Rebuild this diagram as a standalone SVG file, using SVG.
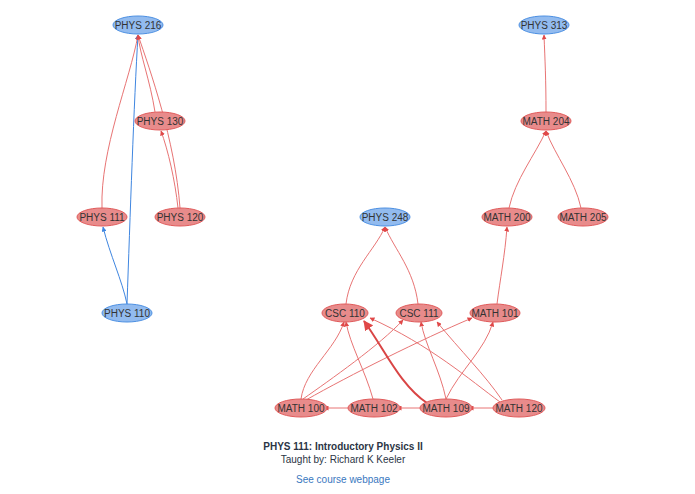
<svg xmlns="http://www.w3.org/2000/svg" width="695" height="494" viewBox="0 0 695 494">
<style>
.r ellipse{fill:#e88b8b;stroke:#e05a5a;stroke-width:1}
.b ellipse{fill:#92bbef;stroke:#4b8fe2;stroke-width:1}
text{font-family:"Liberation Sans",Arial,sans-serif;font-size:10px;fill:#333;text-anchor:middle}
.e path{fill:none;stroke:#e87474;stroke-width:1}
.e path.bl{stroke:#3f86e0}
.e path.th{stroke:#d94545;stroke-width:2}
</style>
<defs>
<marker id="ar" viewBox="0 0 10 10" refX="9" refY="5" markerWidth="5" markerHeight="5" orient="auto"><path d="M0,0L10,5L0,10z" fill="#e04848"/></marker>
<marker id="ab" viewBox="0 0 10 10" refX="9" refY="5" markerWidth="5" markerHeight="5" orient="auto"><path d="M0,0L10,5L0,10z" fill="#3f86e0"/></marker>
</defs>
<g class="e" id="edges">
<path d="M102,208 C100,150 130,80 138,35" marker-end="url(#ar)"/>
<path class="bl" d="M127,304 C130,220 134,100 138,35" marker-end="url(#ab)"/>
<path d="M155,112 C150,80 140,55 138,35" marker-end="url(#ar)"/>
<path d="M180,208 C175,140 150,70 138,35" marker-end="url(#ar)"/>
<path d="M178,208 C175,180 168,150 161,131" marker-end="url(#ar)"/>
<path class="bl" d="M127,304 C122,280 110,255 103,227" marker-end="url(#ab)"/>
<path d="M546,112 C546,80 545,60 544,35" marker-end="url(#ar)"/>
<path d="M509,208 C515,180 535,155 546,131" marker-end="url(#ar)"/>
<path d="M581,208 C575,180 555,155 546,131" marker-end="url(#ar)"/>
<path d="M497,304 C500,280 505,255 507,227" marker-end="url(#ar)"/>
<path d="M346,304 C350,270 375,250 385,227" marker-end="url(#ar)"/>
<path d="M418,304 C414,270 395,250 385,227" marker-end="url(#ar)"/>
<path d="M301,399 C305,370 335,350 344,322" marker-end="url(#ar)"/>
<path d="M303,399 C330,380 380,345 403,320" marker-end="url(#ar)"/>
<path d="M306,400 C350,375 420,340 472,318" marker-end="url(#ar)"/>
<path d="M373,399 C365,370 350,345 346,322" marker-end="url(#ar)"/>
<path class="th" d="M427,403 C400,385 385,350 364,321" marker-end="url(#ar)"/>
<path d="M446,399 C440,370 425,345 421,322" marker-end="url(#ar)"/>
<path d="M446,399 C460,370 485,350 493,322" marker-end="url(#ar)"/>
<path d="M500,402 C470,380 430,345 370,318" marker-end="url(#ar)"/>
<path d="M502,400 C485,375 460,350 437,322" marker-end="url(#ar)"/>
<path d="M349,408 L324,408" marker-end="url(#ar)"/>
<path d="M421,408 L397,408" marker-end="url(#ar)"/>
<path d="M494,408 L469,408" marker-end="url(#ar)"/>
</g>
<g id="PHYS216" class="b"><ellipse cx="138" cy="25" rx="25" ry="9"/><text x="138" y="29">PHYS 216</text></g>
<g id="PHYS130" class="r"><ellipse cx="160" cy="121" rx="25" ry="9"/><text x="160" y="125">PHYS 130</text></g>
<g id="PHYS111" class="r"><ellipse cx="102" cy="217" rx="25" ry="9"/><text x="102" y="221">PHYS 111</text></g>
<g id="PHYS120" class="r"><ellipse cx="180" cy="217" rx="25" ry="9"/><text x="180" y="221">PHYS 120</text></g>
<g id="PHYS110" class="b"><ellipse cx="127" cy="313" rx="25" ry="9"/><text x="127" y="317">PHYS 110</text></g>
<g id="PHYS313" class="b"><ellipse cx="544" cy="25" rx="25" ry="9"/><text x="544" y="29">PHYS 313</text></g>
<g id="MATH204" class="r"><ellipse cx="546" cy="121" rx="25" ry="9"/><text x="546" y="125">MATH 204</text></g>
<g id="MATH200" class="r"><ellipse cx="507" cy="217" rx="25" ry="9"/><text x="507" y="221">MATH 200</text></g>
<g id="MATH205" class="r"><ellipse cx="583" cy="217" rx="25" ry="9"/><text x="583" y="221">MATH 205</text></g>
<g id="PHYS248" class="b"><ellipse cx="385" cy="217" rx="25" ry="9"/><text x="385" y="221">PHYS 248</text></g>
<g id="CSC110" class="r"><ellipse cx="345" cy="313" rx="23" ry="9"/><text x="345" y="317">CSC 110</text></g>
<g id="CSC111" class="r"><ellipse cx="419" cy="313" rx="23" ry="9"/><text x="419" y="317">CSC 111</text></g>
<g id="MATH101" class="r"><ellipse cx="495" cy="313" rx="25" ry="9"/><text x="495" y="317">MATH 101</text></g>
<g id="MATH100" class="r"><ellipse cx="301" cy="408" rx="26" ry="9"/><text x="301" y="412">MATH 100</text></g>
<g id="MATH102" class="r"><ellipse cx="374" cy="408" rx="26" ry="9"/><text x="374" y="412">MATH 102</text></g>
<g id="MATH109" class="r"><ellipse cx="446" cy="408" rx="26" ry="9"/><text x="446" y="412">MATH 109</text></g>
<g id="MATH120" class="r"><ellipse cx="519" cy="408" rx="26" ry="9"/><text x="519" y="412">MATH 120</text></g>
<g id="caption">
<text x="343" y="450" style="font-weight:bold;fill:#2b3545">PHYS 111: Introductory Physics II</text>
<text x="343" y="463" style="fill:#2b3545">Taught by: Richard K Keeler</text>
<text x="343" y="483" style="fill:#3a78c0">See course webpage</text>
</g>
</svg>
